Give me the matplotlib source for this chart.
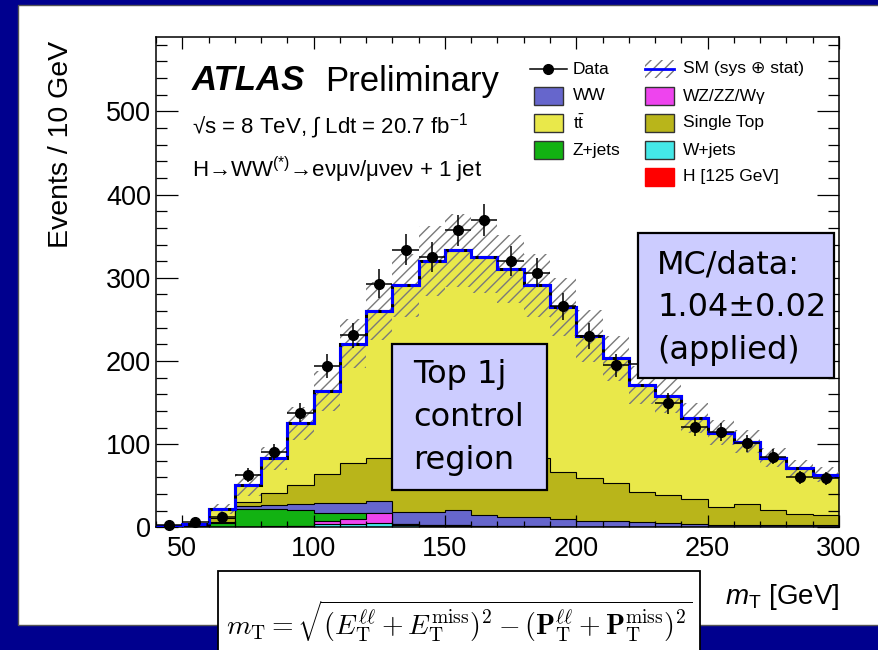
import numpy as np
import matplotlib
matplotlib.use("Agg")
import matplotlib.pyplot as plt
from matplotlib.patches import Rectangle
from matplotlib.lines import Line2D
from matplotlib.ticker import MultipleLocator

plt.rcParams['font.family'] = ['Liberation Sans', 'DejaVu Sans']
plt.rcParams['mathtext.fontset'] = 'custom'
plt.rcParams['mathtext.rm'] = 'Liberation Sans'
plt.rcParams['mathtext.it'] = 'Liberation Sans:italic'
plt.rcParams['mathtext.bf'] = 'Liberation Sans:bold'
plt.rcParams['hatch.linewidth'] = 1.0

# ---- binning: m_T from 40 to 300 GeV in 10 GeV bins ----
bin_edges = np.arange(40, 310, 10)
bin_centers = 0.5 * (bin_edges[:-1] + bin_edges[1:])

# ---- observed data ----
data_counts = [3, 7, 13, 63, 91, 138, 194, 231, 293, 334, 325, 357, 370,
               320, 306, 266, 230, 195, 196, 149, 121, 115, 101, 85, 60, 59]
data_err = [1.7, 2.6, 3.6, 7.9, 9.5, 11.7, 13.9, 15.2, 17.1, 18.3, 18.0, 18.9, 19.2,
            17.9, 17.5, 16.3, 15.2, 14.0, 14.0, 12.2, 11.0, 10.7, 10.0, 9.2, 7.7, 7.7]

# ---- expected backgrounds (stacked, bottom to top) ----
higgs = [0, 0, 0, 0, 0, 0, 0.3, 0.4, 0.4, 0.3, 0.3, 0.3, 0.2,
         0.2, 0.1, 0.1, 0, 0, 0, 0, 0, 0, 0, 0, 0, 0]
wjets = [0, 0, 0, 0, 0, 1.5, 3.5, 3.5, 4.5, 2.5, 1.5, 1.0, 0.8,
         0.5, 0.4, 0.3, 0.3, 0.2, 0.2, 0.2, 0.1, 0.1, 0.1, 0.1, 0.1, 0.1]
diboson = [0, 0, 0.3, 0.8, 1.2, 0.5, 3.8, 6.5, 12.0, 1.0, 1.0, 1.7, 0.8,
           0.8, 0.6, 0.5, 0.4, 0.4, 0.3, 0.3, 0.2, 0.2, 0.2, 0.2, 0.2, 0.2]
zjets = [0.3, 0.5, 5.0, 21.0, 21.0, 19.0, 10.0, 6.5, 0.4, 0.5, 0.3, 0.3, 0.2,
         0.2, 0.2, 0.1, 0.1, 0.1, 0.1, 0.1, 0.1, 0.1, 0.1, 0.1, 0.1, 0.1]
ww = [0.2, 0.3, 1.5, 4.0, 5.0, 7.0, 11.5, 12.5, 14.5, 14.8, 15.5, 17.8, 12.8,
      10.3, 11.0, 8.7, 7.2, 7.3, 6.2, 5.0, 3.6, 2.9, 2.1, 2.1, 2.1, 2.1]
single_top = [0.3, 0.6, 4.0, 5.2, 13.8, 23.0, 34.6, 47.6, 52.2, 68.9, 71.4, 68.9, 73.2,
              74.0, 70.7, 57.3, 51.7, 44.9, 35.2, 33.2, 29.7, 20.7, 25.5, 18.3, 13.5, 12.3]
ttbar = [1.0, 2.1, 11.2, 20.0, 42.0, 74.0, 100.3, 144.0, 176.0, 203.0, 230.0, 243.0, 237.0,
         225.0, 208.0, 198.0, 170.3, 150.1, 129.0, 119.2, 98.3, 90.0, 75.0, 63.2, 55.0, 48.2]
# half-width of the (sys + stat) uncertainty band
sm_unc = [1.0, 1.5, 6, 13, 14, 20, 24, 30, 35, 38, 42, 44, 43,
          41, 38, 35, 31, 27, 23, 21, 18, 15, 14, 12, 10, 9]

components = [
    ("H [125 GeV]", higgs, "#FF0000"),
    ("W+jets", wjets, "#44E8E8"),
    ("WZ/ZZ/W\u03b3", diboson, "#EE44EE"),
    ("Z+jets", zjets, "#12B212"),
    ("WW", ww, "#6666CC"),
    ("Single Top", single_top, "#B9B51A"),
    ("tt", ttbar, "#E9E84A"),
]

navy = "#00008E"
W, H = 879, 650
fig = plt.figure(figsize=(W / 100, H / 100), dpi=100, facecolor=navy)

# white slide panel behind everything
bg = fig.add_axes([0, 0, 1, 1], zorder=0)
bg.set_xlim(0, W)
bg.set_ylim(H, 0)
bg.axis("off")
bg.add_patch(Rectangle((18, 5), 880, 620, facecolor="white", edgecolor="#555555", lw=1.0))

# ---- main histogram axes ----
ax_l, ax_r, ax_t, ax_b = 156, 839, 36.5, 527.4
ax = fig.add_axes([ax_l / W, 1 - ax_b / H, (ax_r - ax_l) / W, (ax_b - ax_t) / H], zorder=1)

stack = np.cumsum(np.array([c[1] for c in components]), axis=0)
for i in range(len(components) - 1, -1, -1):
    ax.stairs(stack[i], bin_edges, baseline=0, fill=True,
              facecolor=components[i][2], edgecolor="black", lw=0.8)

total = stack[-1]
unc = np.array(sm_unc)
lo = np.append(total - unc, total[-1] - unc[-1])
hi = np.append(total + unc, total[-1] + unc[-1])
ax.fill_between(bin_edges, lo, hi, step="post", facecolor="none",
                edgecolor="#7A7A7A", hatch="///", linewidth=0, zorder=3)
ax.stairs(total, bin_edges, baseline=None, color="black", lw=2.2, zorder=4)
ax.stairs(total, bin_edges, baseline=None, color="#0000FF", lw=2.2,
          linestyle=(0, (5, 1)), zorder=5)

ax.errorbar(bin_centers, data_counts, xerr=5, yerr=data_err, fmt="o", color="black",
            ms=7, elinewidth=1.1, capsize=0, zorder=10, clip_on=False)

ax.set_xlim(40, 300)
ax.set_ylim(0, 590)
ax.xaxis.set_major_locator(MultipleLocator(50))
ax.xaxis.set_minor_locator(MultipleLocator(10))
ax.yaxis.set_major_locator(MultipleLocator(100))
ax.yaxis.set_minor_locator(MultipleLocator(20))
ax.tick_params(axis="both", which="both", direction="in", top=True, right=True,
               width=0.9, labelsize=19.5)
ax.tick_params(axis="x", which="major", length=8.6, pad=6)
ax.tick_params(axis="x", which="minor", length=4.3)
ax.tick_params(axis="y", which="major", length=15.8, pad=3.5)
ax.tick_params(axis="y", which="minor", length=8)
for s in ax.spines.values():
    s.set_linewidth(1.1)

# ---- overlay for annotations and legend (pixel coordinates) ----
ov = fig.add_axes([0, 0, 1, 1], zorder=2)
ov.set_xlim(0, W)
ov.set_ylim(H, 0)
ov.axis("off")
ov.patch.set_alpha(0)

ov.text(61, 144, "Events / 10 GeV", rotation=90, ha="center", va="center", fontsize=20.5)
ov.text(839, 597, r"$m_{\mathrm{T}}$ [GeV]", ha="right", va="center", fontsize=20)

ov.text(192, 81, "ATLAS", fontsize=25, fontweight="bold", fontstyle="italic", va="center")
ov.text(325, 81, "Preliminary", fontsize=25, va="center")
ov.text(192, 126, "\u221as = 8 TeV, \u222b Ldt = 20.7 fb$^{-1}$", fontsize=16, va="center")
ov.text(192, 170, "H\u2192WW$^{(*)}$\u2192e\u03bd\u03bc\u03bd/\u03bc\u03bde\u03bd + 1 jet",
        fontsize=16, va="center")

# legend
leg_fs = 12.5
row_y = [69, 96, 123, 150, 177]
col1_box, col2_box, bw, bh = 534, 645, 29, 18
ov.add_line(Line2D([530, 567], [row_y[0], row_y[0]], color="black", lw=1.1))
ov.plot([548.5], [row_y[0]], "o", color="black", ms=7)
ov.text(573, row_y[0], "Data", fontsize=leg_fs, va="center")
left_entries = [("WW", "#6666CC"), (r"t$\bar{\mathrm{t}}$", "#E9E84A"), ("Z+jets", "#12B212")]
for k, (lab, col) in enumerate(left_entries):
    y = row_y[k + 1]
    ov.add_patch(Rectangle((col1_box, y - bh / 2), bw, bh, facecolor=col, edgecolor="#333333", lw=1))
    ov.text(573, y, lab, fontsize=leg_fs, va="center")

ov.add_patch(Rectangle((col2_box, row_y[0] - bh / 2), bw, bh, facecolor="none",
                       edgecolor="#7A7A7A", hatch="///", lw=0))
ov.add_line(Line2D([col2_box, col2_box + bw], [row_y[0], row_y[0]], color="#0000FF", lw=2))
ov.text(683, row_y[0], "SM (sys \u2295 stat)", fontsize=leg_fs, va="center")
right_entries = [("WZ/ZZ/W\u03b3", "#EE44EE", "#333333"), ("Single Top", "#B9B51A", "#333333"),
                 ("W+jets", "#44E8E8", "#333333"), ("H [125 GeV]", "#FF0000", "#FF0000")]
for k, (lab, col, ec) in enumerate(right_entries):
    y = row_y[k + 1]
    ov.add_patch(Rectangle((col2_box, y - bh / 2), bw, bh, facecolor=col, edgecolor=ec, lw=1))
    ov.text(683, y, lab, fontsize=leg_fs, va="center")

# region boxes
box_col = "#CCCCFF"
ov.add_patch(Rectangle((392, 344), 155, 146, facecolor=box_col, edgecolor="black", lw=1.6))
for txt, y in zip(["Top 1j", "control", "region"], [375, 417, 460]):
    ov.text(413, y, txt, fontsize=23, va="center", family="DejaVu Sans")

ov.add_patch(Rectangle((638, 233), 196, 145, facecolor=box_col, edgecolor="black", lw=1.6))
for txt, y in zip(["MC/data:", "1.04\u00b10.02", "(applied)"], [265, 307, 350]):
    ov.text(657, y, txt, fontsize=23, va="center", family="DejaVu Sans")

# transverse mass definition
ov.add_patch(Rectangle((218, 571), 482, 100, facecolor="white", edgecolor="black", lw=1.3))
ov.text(459, 621,
        r"$m_{\rm T} = \sqrt{(E_{\rm T}^{\ell\ell} + E_{\rm T}^{\rm miss})^2"
        r" - (\mathbf{P}_{\rm T}^{\ell\ell} + \mathbf{P}_{\rm T}^{\rm miss})^2}$",
        fontsize=20, ha="center", va="center", math_fontfamily="cm")

fig.savefig("out.png", dpi=100, facecolor=fig.get_facecolor())
